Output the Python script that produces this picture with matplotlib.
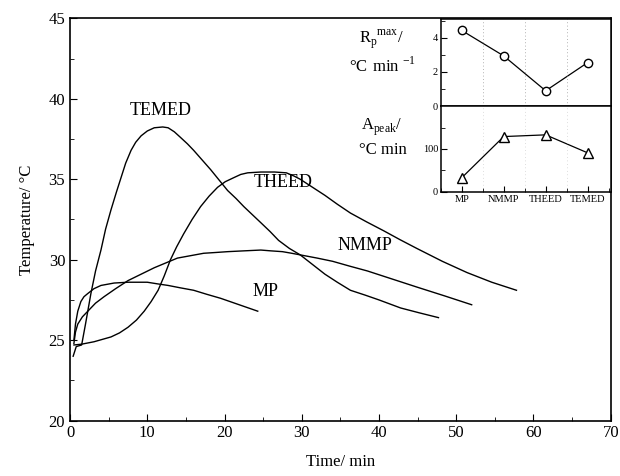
import matplotlib
matplotlib.use("Agg")
import matplotlib.pyplot as plt
from matplotlib.ticker import MultipleLocator, FixedLocator

plt.rcParams['font.family'] = ['Liberation Serif', 'DejaVu Serif']
plt.rcParams['mathtext.fontset'] = 'custom'
plt.rcParams['mathtext.rm'] = 'Liberation Serif'

# Main curves (time in min, temperature in degC)
temed_t = [0.4, 0.8, 1.5, 2.0, 2.7, 3.3, 4.0, 4.6, 5.3, 6.0, 6.6, 7.2, 7.9, 8.5, 9.2, 10.0, 10.9, 12.0, 12.7, 13.5,
           14.3, 15.2, 16.0, 17.1, 18.2, 19.3, 20.4, 21.5, 22.5, 23.6, 24.7, 25.9, 27.0, 28.4, 29.8, 31.4, 33.0,
           34.6, 36.3, 38.2, 40.0, 42.8, 45.2, 47.7]
temed_T = [24.0, 24.6, 24.7, 26.0, 27.9, 29.3, 30.6, 31.9, 33.1, 34.2, 35.1, 36.0, 36.8, 37.3, 37.7, 38.0, 38.2, 38.25, 38.2, 37.95,
           37.6, 37.2, 36.8, 36.2, 35.6, 34.95, 34.3, 33.8, 33.3, 32.8, 32.3, 31.75, 31.2, 30.7, 30.3, 29.7, 29.1,
           28.6, 28.1, 27.8, 27.5, 27.0, 26.7, 26.4]

theed_t = [0.5, 1.5, 3.1, 4.2, 5.3, 6.4, 7.5, 8.6, 9.6, 10.5, 11.4, 12.2, 13.0, 13.8, 14.7, 15.8, 16.9, 18.0, 19.1,
           20.1, 21.2, 22.1, 23.0, 24.7, 26.5, 28.0, 29.0, 29.8, 31.4, 33.0, 34.6, 36.3, 38.4, 40.6, 42.7, 44.9,
           48.2, 51.4, 54.6, 57.8]
theed_T = [24.7, 24.75, 24.9, 25.05, 25.2, 25.45, 25.8, 26.25, 26.8, 27.4, 28.1, 29.0, 30.0, 30.8, 31.6, 32.5, 33.3, 33.95, 34.5,
           34.85, 35.1, 35.3, 35.4, 35.45, 35.45, 35.4, 35.2, 35.0, 34.5, 34.0, 33.45, 32.9, 32.35, 31.8, 31.25, 30.7,
           29.9, 29.2, 28.6, 28.1]

nmmp_t = [0.5, 0.7, 1.0, 1.6, 2.3, 3.3, 4.4, 5.9, 7.5, 9.2, 10.9, 12.4, 13.9, 15.6, 17.3, 18.9, 20.4, 22.5, 24.7,
          26.0, 27.5, 28.7, 29.8, 32.0, 34.0, 36.2, 38.5, 41.7, 44.9, 48.5, 52.0]
nmmp_T = [24.8, 25.5, 26.0, 26.45, 26.8, 27.3, 27.7, 28.2, 28.7, 29.1, 29.5, 29.8, 30.1, 30.25, 30.4, 30.45, 30.5, 30.55, 30.6,
          30.55, 30.5, 30.4, 30.3, 30.1, 29.9, 29.6, 29.3, 28.8, 28.3, 27.75, 27.2]

mp_t = [0.5, 0.7, 1.0, 1.4, 1.8, 2.3, 3.1, 4.0, 5.7, 7.5, 10.0, 11.3, 12.7, 14.3, 16.0, 17.7, 19.5, 21.9, 24.3]
mp_T = [25.0, 26.0, 26.8, 27.4, 27.7, 27.9, 28.2, 28.4, 28.55, 28.6, 28.6, 28.5, 28.4, 28.25, 28.1, 27.85, 27.6, 27.2, 26.8]

curve_labels = ["TEMED", "THEED", "NMMP", "MP"]
label_pos = [(11.7, 39.3), (27.6, 34.8), (38.2, 30.9), (25.3, 28.0)]

# Inset data
inset_cats = ["MP", "NMMP", "THEED", "TEMED"]
rp_max = [4.43, 2.94, 0.90, 2.55]
a_peak = [33, 129, 133, 91]

fig = plt.figure(figsize=(6.2, 4.76), dpi=100)
ax = fig.add_axes([0.113, 0.1164, 0.872, 0.845])

for t, T in [(temed_t, temed_T), (theed_t, theed_T), (nmmp_t, nmmp_T), (mp_t, mp_T)]:
    ax.plot(t, T, color='black', lw=1.0)

for lab, (x, y) in zip(curve_labels, label_pos):
    ax.text(x, y, lab, fontsize=13, ha='center', va='center')

ax.set_xlim(0, 70)
ax.set_ylim(20, 45)
ax.xaxis.set_major_locator(MultipleLocator(10))
ax.xaxis.set_minor_locator(MultipleLocator(5))
ax.yaxis.set_major_locator(MultipleLocator(5))
ax.yaxis.set_minor_locator(MultipleLocator(2.5))
ax.tick_params(which='both', direction='in', top=False, right=False, labelsize=12)
ax.tick_params(which='major', length=5)
ax.tick_params(which='minor', length=3)
ax.set_xlabel("Time/ min", fontsize=12, labelpad=9)
ax.set_ylabel("Temperature/ \u00b0C", fontsize=12, labelpad=10)
for s in ax.spines.values():
    s.set_linewidth(1.2)

# Inset panels
left, right = 0.711, 0.985
top, mid, bot = 0.960, 0.777, 0.597
ax1 = fig.add_axes([left, mid, right - left, top - mid])
ax2 = fig.add_axes([left, bot, right - left, mid - bot], sharex=ax1)
xpos = list(range(1, len(inset_cats) + 1))

ax1.plot(xpos, rp_max, color='black', lw=0.9, marker='o', ms=6, mfc='white', mec='black')
ax2.plot(xpos, a_peak, color='black', lw=0.9, marker='^', ms=7, mfc='white', mec='black')

ax1.set_xlim(0.5, 4.55)
ax1.set_ylim(0, 5.1)
ax2.set_ylim(0, 200)
ax1.yaxis.set_major_locator(FixedLocator([0, 2, 4]))
ax1.yaxis.set_minor_locator(FixedLocator([1, 3, 5]))
ax2.yaxis.set_major_locator(FixedLocator([0, 100]))
ax2.yaxis.set_minor_locator(FixedLocator([50, 150]))
ax2.set_xticks(xpos)
ax2.set_xticklabels(inset_cats)
ax2.xaxis.set_minor_locator(MultipleLocator(0.5))
for a in (ax1, ax2):
    a.tick_params(which='both', direction='in', top=False, right=False, labelsize=7.5, pad=2)
    a.tick_params(which='major', length=4)
    a.tick_params(which='minor', length=3)
    for s in a.spines.values():
        s.set_linewidth(1.1)
ax1.tick_params(axis='x', which='both', bottom=False, labelbottom=False)
for g in [1.5, 2.5, 3.5]:
    ax1.axvline(g, color='0.6', lw=0.6, ls=(0, (1, 3)))
    ax2.axvline(g, color='0.75', lw=0.5, ls=(0, (1, 4)))

fig.text(0.615, 0.918, r"R$_\mathrm{p}$$^\mathrm{max}$/", fontsize=12, ha='center', va='center')
fig.text(0.617, 0.862, r"$\mathrm{\degree C\ min}$ $^\mathrm{-1}$", fontsize=12, ha='center', va='center')
fig.text(0.616, 0.733, r"A$_\mathrm{peak}$/", fontsize=12, ha='center', va='center')
fig.text(0.618, 0.684, "\u00b0C min", fontsize=12, ha='center', va='center')

fig.savefig("out.png", dpi=100)
